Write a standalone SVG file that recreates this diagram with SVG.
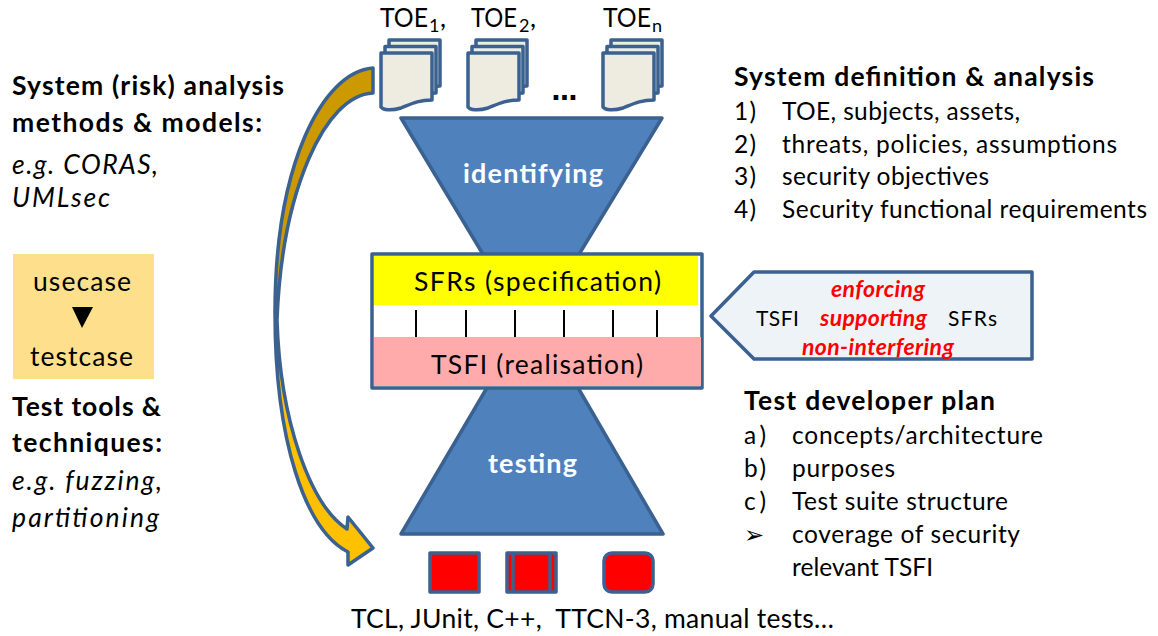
<svg xmlns="http://www.w3.org/2000/svg" width="1158" height="636" viewBox="0 0 1158 636">
<style>
text{font-family:Lato,"Liberation Sans",sans-serif;fill:#000;font-size:26.5px}
.b{font-weight:700}
.i{font-style:italic}
.s{font-size:24.500px}
.l{font-size:26.5px}
.sub{font-size:18px}
.c{font-size:21px}
.r{font-size:23px;font-weight:700;font-style:italic;fill:#f00}
.w{fill:#fff;font-weight:700;font-size:27px}
.sh{stroke:#3a6190;stroke-width:3.5;stroke-linejoin:round}
.doc{fill:#eeece1;stroke:#3a6190;stroke-width:3.5;stroke-linejoin:round}
.tick{stroke:#000;stroke-width:2}
</style>
<defs>
<linearGradient id="arrowFill" gradientUnits="userSpaceOnUse" x1="0" y1="68" x2="0" y2="565">
<stop offset="0.5" stop-color="#cc9900"/><stop offset="0.5" stop-color="#ffc000"/>
</linearGradient>
<g id="page">
<path class="doc" d="M8,-13H59V33C45,33 38,38 28,42C18,45 10,44 8,42Z"/>
<path class="doc" d="M4,-6.500H55V40C41,40 34,45 24,49C14,52 6,51 4,49Z"/>
<path class="doc" d="M0,0H51V47C37,47 30,51 20,55C10,58 2,57 0,54Z"/>
</g>
</defs>

<g id="funnel-identifying">
<polygon class="sh" fill="#4f81bd" points="401,118 662,118 578,256 484,256"/>
<text class="w" x="463" y="183" textLength="140">identifying</text>
</g>
<g id="funnel-testing">
<polygon class="sh" fill="#4f81bd" points="488,386 577,386 663,534 401,534"/>
<text class="w" x="488" y="473" textLength="89">testing</text>
</g>

<g id="toe-1"><use href="#page" x="381" y="53"/>
<text x="380" y="27" class="l" textLength="48" lengthAdjust="spacingAndGlyphs">TOE</text><text x="429" y="32" class="sub">1</text><text x="440" y="27" class="l">,</text></g>
<g id="toe-2"><use href="#page" x="468" y="53"/>
<text x="471" y="27" class="l" textLength="46" lengthAdjust="spacingAndGlyphs">TOE</text><text x="519" y="32" class="sub">2</text><text x="530" y="27" class="l">,</text></g>
<g id="toe-n"><use href="#page" x="603" y="53"/>
<text x="603" y="27" class="l" textLength="48" lengthAdjust="spacingAndGlyphs">TOE</text><text x="652" y="32" class="sub">n</text></g>
<text x="551" y="100" textLength="27" style="font-family:'DejaVu Sans',sans-serif;font-weight:700;font-size:26px">...</text>

<g id="interface-box">
<rect x="372" y="254" width="330" height="134" fill="#fff" class="sh"/>
<rect x="374" y="256" width="324" height="49" fill="#ff0"/>
<rect x="374" y="337" width="327" height="49" fill="#ffabab"/>
<text class="l" x="414" y="291" textLength="247">SFRs (specification)</text>
<text class="l" x="431" y="374" textLength="212">TSFI (realisation)</text>
</g>

<g id="connectors">
<path class="sh" fill="url(#arrowFill)" d="M373,68C322,72 275,165 275,313C275,440 305,530 348,552L348,565L373,548L348,517L347,529C310,505 280,420 277,320C282,190 325,95 373,93Z"/>
<line class="tick" x1="416" y1="310" x2="416" y2="337"/>
<line class="tick" x1="466" y1="310" x2="466" y2="337"/>
<line class="tick" x1="515" y1="310" x2="515" y2="337"/>
<line class="tick" x1="564" y1="310" x2="564" y2="337"/>
<line class="tick" x1="613" y1="310" x2="613" y2="337"/>
<line class="tick" x1="657" y1="310" x2="657" y2="337"/>
</g>

<g id="callout">
<polygon class="sh" fill="#eef3f8" points="711,316 754,272 1032,272 1032,359 754,359"/>
<text class="c" x="756" y="326" textLength="43">TSFI</text>
<text class="c" x="948" y="326" textLength="49">SFRs</text>
<text class="r" x="831" y="297" textLength="94">enforcing</text>
<text class="r" x="820" y="326" textLength="107">supporting</text>
<text class="r" x="802" y="355" textLength="152">non-interfering</text>
</g>

<g id="test-1"><rect class="sh" x="430" y="553" width="49" height="39" fill="#f00"/></g>
<g id="test-2"><rect class="sh" x="507" y="553" width="49" height="39" fill="#f00"/>
<line class="sh" x1="513" y1="553" x2="513" y2="592"/><line class="sh" x1="550" y1="553" x2="550" y2="592"/></g>
<g id="test-3"><rect class="sh" x="604" y="553" width="49" height="39" rx="8" fill="#f00"/></g>
<text id="test-languages" class="l" x="351" y="628" textLength="483" xml:space="preserve">TCL, JUnit, C++,  TTCN-3, manual tests…</text>

<g id="analysis-methods">
<text class="b" x="12" y="95" textLength="272">System (risk) analysis</text>
<text class="b" x="12" y="132" textLength="250">methods &amp; models:</text>
<text class="i" x="12" y="174" textLength="146">e.g. CORAS,</text>
<text class="i" x="12" y="207" textLength="98">UMLsec</text>
</g>

<g id="usecase-testcase">
<rect x="13" y="254" width="141" height="125" fill="#fee08c"/>
<text x="33" y="291" textLength="98">usecase</text>
<polygon points="72,307 93,307 82,328" fill="#000"/>
<text x="30" y="366" textLength="103">testcase</text>
</g>

<g id="test-tools">
<text class="b" x="12" y="416" textLength="149">Test tools &amp;</text>
<text class="b" x="12" y="452" textLength="150">techniques:</text>
<text class="i" x="12" y="490" textLength="150">e.g. fuzzing,</text>
<text class="i" x="12" y="527" textLength="147">partitioning</text>
</g>

<g id="system-definition">
<text class="b" x="734" y="86" textLength="360">System definition &amp; analysis</text>
<text class="s" x="734" y="120" textLength="22">1)</text><text class="s" x="782" y="120" textLength="238">TOE, subjects, assets,</text>
<text class="s" x="734" y="153" textLength="22">2)</text><text class="s" x="782" y="153" textLength="335">threats, policies, assumptions</text>
<text class="s" x="734" y="185" textLength="22">3)</text><text class="s" x="782" y="185" textLength="207">security objectives</text>
<text class="s" x="734" y="218" textLength="22">4)</text><text class="s" x="782" y="218" textLength="365">Security functional requirements</text>
</g>

<g id="test-plan">
<text class="b" x="744" y="410" textLength="251">Test developer plan</text>
<text class="s" x="744" y="444" textLength="22">a)</text><text class="s" x="792" y="444" textLength="251">concepts/architecture</text>
<text class="s" x="744" y="477" textLength="22">b)</text><text class="s" x="792" y="477" textLength="103">purposes</text>
<text class="s" x="744" y="510" textLength="22">c)</text><text class="s" x="792" y="510" textLength="216">Test suite structure</text>
<text x="744" y="543" style="font-family:'DejaVu Sans',sans-serif;font-size:24px">➢</text><text class="s" x="792" y="543" textLength="228">coverage of security</text>
<text class="s" x="792" y="576" textLength="141">relevant TSFI</text>
</g>
</svg>
